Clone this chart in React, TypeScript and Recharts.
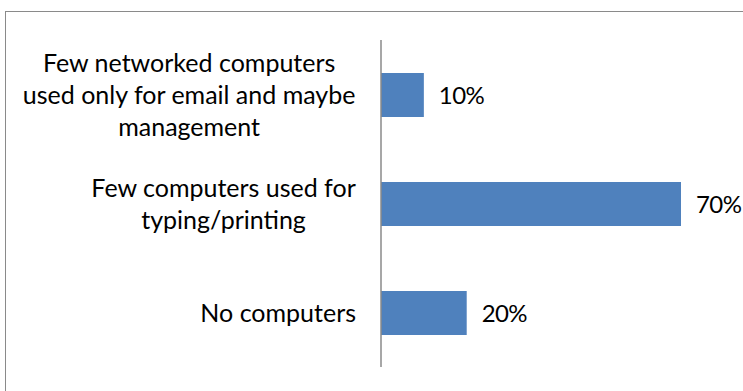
import React from 'react';
import { BarChart, Bar, XAxis, YAxis, LabelList } from 'recharts';

const categories = [
  'Few networked computers\nused only for email and maybe\nmanagement',
  'Few computers used for\ntyping/printing',
  'No computers',
];
const shares = [10, 70, 20];

const data = categories.map((name, i) => ({ name, value: shares[i] }));

const FONT = 'Lato, "Open Sans", sans-serif';
const FONT_SIZE = 25;
const LINE_H = 32;
const BLUE = '#4f81bd';

let ctx: CanvasRenderingContext2D | null = null;
function textWidth(s: string) {
  if (!ctx) ctx = document.createElement('canvas').getContext('2d');
  if (!ctx) return s.length * FONT_SIZE * 0.5;
  ctx.font = `${FONT_SIZE}px Lato`;
  return ctx.measureText(s).width;
}

function CategoryTick(props: any) {
  const { x, y, payload } = props;
  const lines: string[] = String(payload.value).split('\n');
  const w = Math.max(...lines.map(textWidth));
  const cx = x - w / 2;
  return (
    <text
      textAnchor="middle"
      fill="#000"
      fontFamily={FONT}
      fontSize={FONT_SIZE}
    >
      {lines.map((l, i) => (
        <tspan key={i} x={cx} y={y + (i - (lines.length - 1) / 2) * LINE_H + 9}>
          {l}
        </tspan>
      ))}
    </text>
  );
}

export default function App() {
  return (
    <div style={{ position: 'absolute', left: 0, top: 0, width: 743, height: 391, overflow: 'hidden', background: '#fff' }}>
      <div
        style={{
          position: 'absolute',
          left: 5,
          top: 11,
          width: 800,
          height: 420,
          border: '1px solid #8a8a8a',
        }}
      />
      <div style={{ position: 'absolute', left: 0, top: 0 }}>
        <BarChart
          width={743}
          height={391}
          data={data}
          layout="vertical"
          margin={{ top: 40, right: 62, left: 0, bottom: 24 }}
        >
          <XAxis type="number" domain={[0, 70]} hide />
          <YAxis
            type="category"
            dataKey="name"
            width={381}
            tickSize={0}
            tickMargin={25}
            tickLine={false}
            axisLine={{ stroke: '#8a8a8a', strokeWidth: 1.5 }}
            tick={<CategoryTick />}
            interval={0}
          />
          <Bar dataKey="value" fill={BLUE} barSize={44} isAnimationActive={false}>
            <LabelList
              dataKey="value"
              position="right"
              offset={15}
              formatter={(v: any) => `${v}%`}
              style={{ fill: '#000', fontSize: 24, letterSpacing: -0.6, fontFamily: FONT }}
            />
          </Bar>
        </BarChart>
      </div>
    </div>
  );
}
